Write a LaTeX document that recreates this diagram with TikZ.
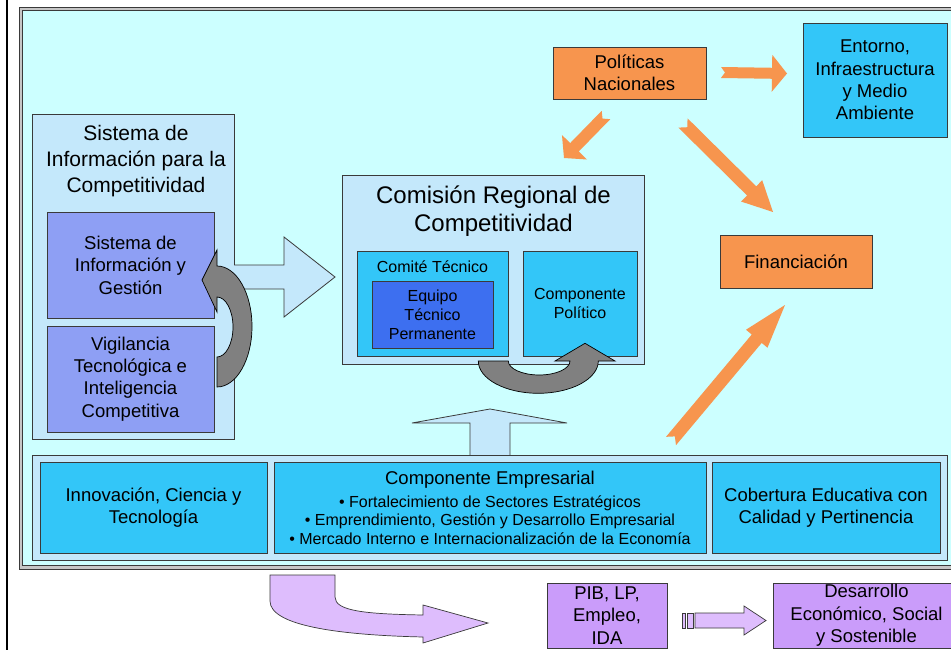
\documentclass[tikz,border=0pt]{standalone}
\usepackage{fontspec}
\setmainfont{Liberation Sans}
\usetikzlibrary{calc}
\definecolor{bgcyan}{HTML}{CCFFFF}
\definecolor{ltblue}{HTML}{C4E8FB}
\definecolor{peri}{HTML}{8E9FF4}
\definecolor{cyanb}{HTML}{33C6F8}
\definecolor{royal}{HTML}{3D6FF0}
\definecolor{orng}{HTML}{F7954E}
\definecolor{purp}{HTML}{CA9CFA}
\definecolor{ltpurp}{HTML}{DEBDFD}
\definecolor{bord}{HTML}{3A3A3A}
\definecolor{grayarr}{HTML}{808080}
\newcommand{\rbox}[7]{\node[#1, minimum width={#4-#2}, minimum height={#5-#3}] (#6) at ({(#2+#4)/2},{(#3+#5)/2}) {#7};}
\newcommand{\notcharrow}[6]{%
  \coordinate (hb) at ($(#2)!#5!(#1)$);
  \fill[orng] ($(#1)!#3!90:(#2)$) -- ($(hb)!#3!90:(#2)$) -- ($(hb)!#4!90:(#2)$) -- (#2)
    -- ($(hb)!#4!-90:(#2)$) -- ($(hb)!#3!-90:(#2)$) -- ($(#1)!#3!-90:(#2)$) -- ($(#1)!#6!(#2)$) -- cycle;}
\tikzset{
  bx/.style={draw=bord, line width=0.8pt, inner sep=0pt, align=center, text=black},
  txt/.style={inner sep=0pt, align=center, text=black},
  f16/.style={font=\fontsize{16}{18.8}\selectfont},
  f185/.style={font=\fontsize{18.5}{22.4}\selectfont},
  f21/.style={font=\fontsize{21}{26}\selectfont},
  f24/.style={font=\fontsize{24}{28}\selectfont},
  lite/.style={bx, fill=ltblue},
  peribox/.style={bx, fill=peri, f185},
  cyanbox/.style={bx, fill=cyanb},
  orbox/.style={bx, fill=orng, f185},
  purbox/.style={bx, fill=purp, f185},
  grayarrow/.style={draw=black, line width=0.7pt, fill=grayarr},
  litearrow/.style={draw=bord, line width=0.8pt},
  purparrow/.style={draw=bord, line width=0.7pt, fill=ltpurp},
}
\begin{document}
\begin{tikzpicture}[x=1pt, y=-1pt]
\useasboundingbox (0,0) rectangle (951,650);
\clip (0,0) rectangle (951,650);
\fill[white] (0,0) rectangle (951,650);
% left black rule
\draw[line width=2.4pt, black] (7,-5) -- (7,660);
% double frame
\draw[bord, fill=gray!45, line width=0.8pt] (19,7) rectangle (975,569);
\draw[bord, fill=bgcyan, line width=0.8pt] (22.5,10.5) rectangle (972,565.5);

% Sistema de Informacion para la Competitividad
\rbox{lite}{32}{114}{234}{439}{sic}{}
\node[txt, f21] (sictitle) at (136,161) {Sistema de\\Información para la\\Competitividad};
\rbox{peribox}{47}{212}{214}{318}{siyg}{Sistema de\\Información y\\Gestión}
\rbox{peribox}{47}{326}{214}{432}{vig}{Vigilancia\\Tecnológica e\\Inteligencia\\Competitiva}

% big right arrow
\fill[ltblue] (234,265) -- (284,265) -- (284,237) -- (335,277) -- (284,317) -- (284,289) -- (234,289) -- cycle;
\draw[litearrow] (234,265) -- (284,265) -- (284,237) -- (335,277) -- (284,317) -- (284,289) -- (234,289);

% left gray curved arrow
\draw[grayarrow] (217,387) -- (217,357)
  .. controls (225.8,357) and (233,343.6) .. (233,327)
  .. controls (233,310.4) and (225.8,297) .. (217,297)
  -- (217,312) -- (202,280) -- (217,250) -- (217,266)
  .. controls (236.3,266) and (252,293) .. (252,326.5)
  .. controls (252,360) and (236.3,387) .. (217,387) -- cycle;

% Comision Regional
\rbox{lite}{342}{175}{644}{364}{crc}{}
\node[txt, f24] (crctitle) at (493.5,211) {Comisión Regional de\\Competitividad};
\rbox{cyanbox}{357}{251}{508}{356}{comite}{}
\node[txt, f16] (comitelbl) at (432.5,267) {Comité Técnico};
\rbox{bx, fill=royal, f16}{372}{281}{493}{348}{equipo}{Equipo\\Técnico\\Permanente}
\rbox{cyanbox, f16}{523}{251}{637}{356}{polit}{Componente\\Político}

% bottom gray curved arrow
\draw[grayarrow] (478.3,361) -- (508.3,361)
  .. controls (508.3,368.7) and (522.2,375) .. (539.2,375)
  .. controls (556.2,375) and (570,368.7) .. (570,361)
  -- (555,361) -- (585,343.3) -- (615,361) -- (598.3,361)
  .. controls (598.3,378.8) and (571.4,393.3) .. (538.3,393.3)
  .. controls (505.2,393.3) and (478.3,378.8) .. (478.3,361) -- cycle;

% up arrow
\fill[ltblue] (470,456) -- (470,423) -- (412,423) -- (490,409) -- (567,423) -- (510,423) -- (510,456) -- cycle;
\draw[litearrow] (470,455) -- (470,423) -- (412,423) -- (490,409) -- (567,423) -- (510,423) -- (510,455);

% bottom container
\rbox{lite}{32}{455}{947}{560}{base}{}
\rbox{cyanbox, f185}{40}{462}{267}{553}{innov}{Innovación, Ciencia y\\Tecnología}
\rbox{cyanbox}{274}{462}{706}{553}{empres}{}
\node[txt, f185] (emptitle) at (490,480) {Componente Empresarial};
\node[txt, f16] (empbul) at (490,520) {• Fortalecimiento de Sectores Estratégicos\\• Emprendimiento, Gestión y Desarrollo Empresarial\\• Mercado Interno e Internacionalización de la Economía};
\rbox{cyanbox, f185}{712}{462}{940}{553}{cobert}{Cobertura Educativa con\\Calidad y Pertinencia}

% top right
\rbox{orbox}{553}{47}{706}{99}{polnac}{Políticas\\Nacionales}
\rbox{cyanbox, f185}{803}{23}{947}{137}{entorno}{Entorno,\\Infraestructura\\y Medio\\Ambiente}
\rbox{orbox}{720}{235}{872}{288}{financ}{Financiación}

% orange arrows
\coordinate (a1t) at (721,72.5); \coordinate (a1h) at (787,73.5);
\coordinate (a2t) at (606,115);  \coordinate (a2h) at (564,158);
\coordinate (a3t) at (683,123);  \coordinate (a3h) at (773,212);
\coordinate (a4t) at (671,441);  \coordinate (a4h) at (785,305);
\notcharrow{a1t}{a1h}{5.5pt}{18.5pt}{15pt}{4pt}
\notcharrow{a2t}{a2h}{6pt}{17.5pt}{15pt}{5pt}
\notcharrow{a3t}{a3h}{6.5pt}{15pt}{30pt}{6pt}
\notcharrow{a4t}{a4h}{6.5pt}{14pt}{44pt}{6pt}

% bottom row
\draw[purparrow] (270,575) -- (335,575) -- (335,597)
  .. controls (335,611) and (365,614) .. (423,615)
  -- (423,605) -- (488,623) -- (423,643) -- (423,637)
  .. controls (335,635) and (270,625) .. (270,601) -- cycle;
\rbox{purbox}{547}{583}{667}{648}{pib}{PIB, LP,\\Empleo,\\IDA}
\draw[purparrow] (682,613) rectangle (685,628);
\draw[purparrow] (687,613) rectangle (693,628);
\draw[purparrow] (695,613) -- (744,613) -- (744,606) -- (766,620.5) -- (744,635) -- (744,628) -- (695,628) -- cycle;
\rbox{purbox}{773}{583}{960}{648}{desarr}{Desarrollo\\Económico, Social\\y Sostenible}
\end{tikzpicture}
\end{document}
